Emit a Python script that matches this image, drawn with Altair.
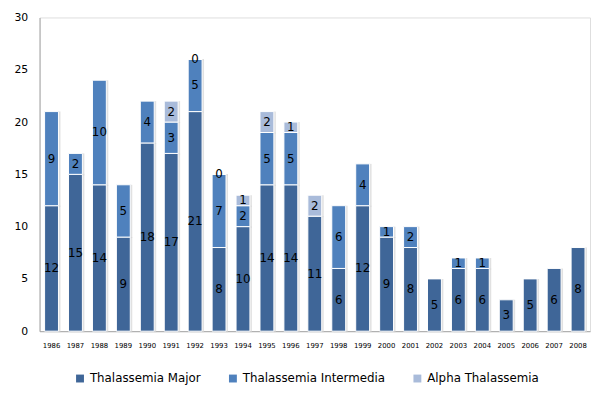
import altair as alt
import pandas as pd

years = [str(y) for y in range(1986, 2009)]
major = [12, 15, 14, 9, 18, 17, 21, 8, 10, 14, 14, 11, 6, 12, 9, 8, 5, 6, 6, 3, 5, 6, 8]
intermedia = [9, 2, 10, 5, 4, 3, 5, 7, 2, 5, 5, None, 6, 4, 1, 2, None, 1, 1, None, None, None, None]
alpha = [None, None, None, None, None, 2, 0, 0, 1, 2, 1, 2, None, None, None, None, None, None, None, None, None, None, None]

series = ["Thalassemia Major", "Thalassemia Intermedia", "Alpha Thalassemia"]
colors = ["#3F6698", "#4F81BD", "#A9BBDA"]

rows = []
for i, y in enumerate(years):
    for k, (name, vals) in enumerate(zip(series, [major, intermedia, alpha])):
        v = vals[i]
        if v is not None:
            rows.append({"year": y, "series": name, "value": v, "order": k})
df = pd.DataFrame(rows)

base = alt.Chart(df).transform_stack(
    stack="value", as_=["y0", "y1"], groupby=["year"], sort=[{"field": "order", "order": "ascending"}]
).transform_calculate(mid="(datum.y0 + datum.y1) / 2")

x = alt.X("year:N", sort=years, title=None,
          scale=alt.Scale(paddingInner=0.42, paddingOuter=0.21),
          axis=alt.Axis(labelAngle=0, ticks=False, domainColor="#A6A6A6", labelFontSize=7,
                        labelFont="DejaVu Sans", labelColor="#000000", labelPadding=11))

yscale = alt.Scale(domain=[0, 30], nice=False)

shadow = base.mark_bar(color="#D4D4D4", opacity=0.7, xOffset=2, yOffset=1).encode(
    x=x,
    y=alt.Y("y0:Q", title=None, scale=yscale),
    y2="y1:Q",
)

bars = base.mark_bar(stroke="white", strokeWidth=1).encode(
    x=x,
    y=alt.Y("y0:Q", title=None, scale=yscale,
            axis=alt.Axis(values=[0, 5, 10, 15, 20, 25, 30], ticks=False, grid=False,
                          domainColor="#A6A6A6", labelFontSize=11, labelFont="DejaVu Sans",
                          labelColor="#000000", labelPadding=12)),
    y2="y1:Q",
    color=alt.Color("series:N", sort=series,
                    scale=alt.Scale(domain=series, range=colors),
                    legend=alt.Legend(title=None, orient="none", direction="horizontal",
                                      legendX=35, legendY=360, symbolType="square",
                                      symbolSize=64, symbolStrokeWidth=0, labelFontSize=12,
                                      labelFont="DejaVu Sans", labelColor="#000000",
                                      columnPadding=26, labelOffset=4)),
)

labels = base.mark_text(fontSize=12, font="DejaVu Sans", color="#000000", baseline="middle").encode(
    x=alt.X("year:N", sort=years),
    y=alt.Y("mid:Q"),
    text=alt.Text("value:Q"),
)

chart = (shadow + bars + labels).properties(
    width=558, height=318,
    autosize=alt.AutoSizeParams(type="none"),
    padding={"left": 32, "top": 7, "right": 1, "bottom": 56},
).configure_view(stroke=None).configure(background="white")

chart.save("out.html", embed_options={"renderer": "svg", "actions": False})
